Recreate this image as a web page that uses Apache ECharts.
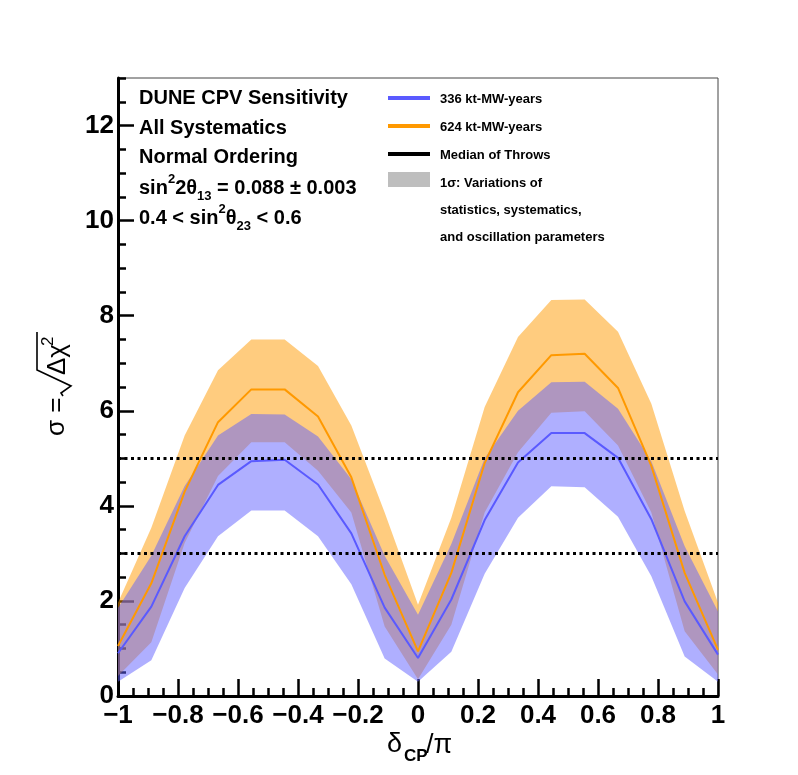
<!DOCTYPE html>
<html><head><meta charset="utf-8">
<script src="https://cdn.jsdelivr.net/npm/echarts@6/dist/echarts.min.js"></script>
<style>html,body{margin:0;padding:0;background:#fff}#c{width:798px;height:775px}</style>
</head><body><div id="c"></div>
<script>
// delta_CP / pi sample points
const deltaCP = [-1, -0.889, -0.778, -0.667, -0.556, -0.444, -0.333, -0.222, -0.111, 0,
                 0.111, 0.222, 0.333, 0.444, 0.556, 0.667, 0.778, 0.889, 1];
// 336 kt-MW-years
const blueMedian = [0.90, 1.88, 3.36, 4.44, 4.94, 4.97, 4.45, 3.42, 1.86, 0.80,
                    2.03, 3.70, 4.91, 5.53, 5.53, 5.01, 3.72, 1.99, 0.87];
const blueLower  = [0.30, 0.75, 2.27, 3.36, 3.90, 3.90, 3.36, 2.35, 0.79, 0.30,
                    0.93, 2.57, 3.75, 4.41, 4.39, 3.77, 2.52, 0.83, 0.30];
const blueUpper  = [1.85, 2.95, 4.42, 5.48, 5.93, 5.92, 5.46, 4.56, 2.95, 1.71,
                    3.20, 5.00, 6.00, 6.60, 6.61, 6.04, 4.94, 3.15, 1.78];
// 624 kt-MW-years
const orangeMedian = [1.05, 2.37, 4.30, 5.76, 6.45, 6.45, 5.88, 4.60, 2.55, 0.94,
                      2.59, 4.90, 6.39, 7.17, 7.20, 6.48, 4.84, 2.59, 0.97];
const orangeLower  = [0.42, 1.13, 3.22, 4.63, 5.34, 5.34, 4.74, 3.86, 1.46, 0.35,
                      1.50, 3.86, 5.13, 5.96, 5.99, 5.27, 3.86, 1.36, 0.45];
const orangeUpper  = [1.96, 3.54, 5.48, 6.85, 7.50, 7.50, 6.94, 5.69, 3.86, 1.92,
                      3.75, 6.08, 7.55, 8.33, 8.34, 7.66, 6.15, 3.89, 1.96];
// reference significance levels
const sigmaLines = [3, 5];
// axis ticks
const xTickLabels = [-1, -0.8, -0.6, -0.4, -0.2, 0, 0.2, 0.4, 0.6, 0.8, 1];
const yTickLabels = [0, 2, 4, 6, 8, 10, 12];

const FONT = '"Liberation Sans", Arial, Helvetica, sans-serif';
const BLUE = '#5a5aff', ORANGE = '#ff9900';
const diffs = (hi, lo) => hi.map((h, i) => +(h - lo[i]).toFixed(3));
const fmtX = (v) => { const r = Math.round(v * 10) / 10; return r < 0 ? '\u2212' + String(-r) : String(r); };

const chart = echarts.init(document.getElementById('c'), null, {renderer: 'canvas'});
const tickStyle = {color: '#000', width: 2.5};
const common = {symbol: 'none', silent: true, xAxisIndex: 1, yAxisIndex: 0};
chart.setOption({
  animation: false,
  backgroundColor: '#fff',
  grid: {left: 118, right: 80, top: 78, bottom: 79, show: true, borderColor: '#444', borderWidth: 1, backgroundColor: 'transparent'},
  xAxis: [{
    type: 'value', min: -1, max: 1, interval: 0.2,
    axisLine: {show: true, onZero: false, lineStyle: {color: '#000', width: 3}},
    axisTick: {show: true, inside: true, length: 17, lineStyle: tickStyle, customValues: xTickLabels},
    minorTick: {show: true, splitNumber: 4, length: 8, lineStyle: tickStyle},
    splitLine: {show: false}, minorSplitLine: {show: false},
    axisLabel: {color: '#000', fontFamily: FONT, fontWeight: 'bold', fontSize: 26, margin: 7, formatter: fmtX,
                customValues: xTickLabels}
  }, {
    type: 'category', data: deltaCP.map(String), boundaryGap: false, show: false,
    axisLine: {onZero: false}
  }],
  yAxis: [{
    type: 'value', min: 0, max: 13, interval: 0.5,
    axisLine: {show: true, onZero: false, lineStyle: {color: '#000', width: 3}},
    axisTick: {show: true, inside: true, length: 8, lineStyle: tickStyle},
    axisLabel: {show: false}, splitLine: {show: false}
  }, {
    type: 'value', min: 0, max: 13, interval: 2, position: 'left', offset: 0,
    axisLine: {show: false, onZero: false},
    axisTick: {show: true, inside: true, length: 16, lineStyle: tickStyle, customValues: yTickLabels},
    axisLabel: {color: '#000', fontFamily: FONT, fontWeight: 'bold', fontSize: 26, margin: 4,
                customValues: yTickLabels},
    splitLine: {show: false}
  }],
  series: [
    Object.assign({name: 'orangeLow', type: 'line', data: orangeLower, stack: 'orange',
     lineStyle: {opacity: 0}}, common),
    Object.assign({name: '624 band', type: 'line', data: diffs(orangeUpper, orangeLower), stack: 'orange',
     lineStyle: {opacity: 0}, areaStyle: {color: ORANGE, opacity: 0.5}}, common),
    Object.assign({name: '624 kt-MW-years', type: 'line', data: orangeMedian,
     lineStyle: {color: ORANGE, width: 2}}, common),
    Object.assign({name: 'blueLow', type: 'line', data: blueLower, stack: 'blue',
     lineStyle: {opacity: 0}}, common),
    Object.assign({name: '336 band', type: 'line', data: diffs(blueUpper, blueLower), stack: 'blue',
     lineStyle: {opacity: 0}, areaStyle: {color: '#6060ff', opacity: 0.5}}, common),
    Object.assign({name: '336 kt-MW-years', type: 'line', data: blueMedian,
     lineStyle: {color: BLUE, width: 2},
     markLine: {silent: true, symbol: ['none', 'none'], label: {show: false},
                lineStyle: {color: '#000', width: 3, type: [3, 3.5]},
                data: sigmaLines.map(v => ({yAxis: v}))}}, common)
  ],
  graphic: [
    // top-left annotations
    {type: 'text', left: 139, top: 88, style: {text: 'DUNE CPV Sensitivity', font: 'bold 20px ' + FONT, fill: '#000'}},
    {type: 'text', left: 139, top: 118, style: {text: 'All Systematics', font: 'bold 20px ' + FONT, fill: '#000'}},
    {type: 'text', left: 139, top: 147, style: {text: 'Normal Ordering', font: 'bold 20px ' + FONT, fill: '#000'}},
    {type: 'text', x: 139, y: 188, style: {
      text: '{n|sin}{p|2}{n|2θ}{b|13}{n| = 0.088 ± 0.003}', verticalAlign: 'middle', textVerticalAlign: 'middle',
      rich: {n: {font: 'bold 20px ' + FONT, fill: '#000', lineHeight: 30},
             p: {font: 'bold 13px ' + FONT, fill: '#000', lineHeight: 16, verticalAlign: 'top'},
             b: {font: 'bold 13px ' + FONT, fill: '#000', lineHeight: 14, verticalAlign: 'bottom'}}}},
    {type: 'text', x: 139, y: 218, style: {
      text: '{n|0.4 < sin}{p|2}{n|θ}{b|23}{n| < 0.6}', verticalAlign: 'middle', textVerticalAlign: 'middle',
      rich: {n: {font: 'bold 20px ' + FONT, fill: '#000', lineHeight: 30},
             p: {font: 'bold 13px ' + FONT, fill: '#000', lineHeight: 16, verticalAlign: 'top'},
             b: {font: 'bold 13px ' + FONT, fill: '#000', lineHeight: 14, verticalAlign: 'bottom'}}}},
    // legend
    {type: 'line', shape: {x1: 388, y1: 98, x2: 430, y2: 98}, style: {stroke: BLUE, lineWidth: 4}},
    {type: 'line', shape: {x1: 388, y1: 126, x2: 430, y2: 126}, style: {stroke: ORANGE, lineWidth: 4}},
    {type: 'line', shape: {x1: 388, y1: 154, x2: 430, y2: 154}, style: {stroke: '#000', lineWidth: 4}},
    {type: 'rect', shape: {x: 388, y: 172, width: 42, height: 15}, style: {fill: '#bebebe'}},
    {type: 'text', x: 440, y: 99, style: {text: '336 kt-MW-years', font: 'bold 13px ' + FONT, fill: '#000', verticalAlign: 'middle'}},
    {type: 'text', x: 440, y: 127, style: {text: '624 kt-MW-years', font: 'bold 13px ' + FONT, fill: '#000', verticalAlign: 'middle'}},
    {type: 'text', x: 440, y: 155, style: {text: 'Median of Throws', font: 'bold 13px ' + FONT, fill: '#000', verticalAlign: 'middle'}},
    {type: 'text', x: 440, y: 183, style: {text: '1σ: Variations of', font: 'bold 13px ' + FONT, fill: '#000', verticalAlign: 'middle'}},
    {type: 'text', x: 440, y: 210, style: {text: 'statistics, systematics,', font: 'bold 13px ' + FONT, fill: '#000', verticalAlign: 'middle'}},
    {type: 'text', x: 440, y: 237, style: {text: 'and oscillation parameters', font: 'bold 13px ' + FONT, fill: '#000', verticalAlign: 'middle'}},
    // x-axis title
    {type: 'text', x: 387, y: 745, style: {text: 'δ', font: '27px ' + FONT, fill: '#000', verticalAlign: 'middle'}},
    {type: 'text', x: 404, y: 756, style: {text: 'CP', font: 'bold 17px ' + FONT, fill: '#000', verticalAlign: 'middle'}},
    {type: 'text', x: 426, y: 746, style: {text: '/π', font: '27px ' + FONT, fill: '#000', verticalAlign: 'middle'}},
    // y-axis title (rotated)
    {type: 'group', x: 70, y: 385, rotation: Math.PI / 2, children: [
      {type: 'text', x: -51, y: 0, style: {text: 'σ =', font: '26px ' + FONT, fill: '#000', verticalAlign: 'bottom'}},
      {type: 'polyline', shape: {points: [[-11, -7], [-8, -9], [-1, 1], [15, -33], [53, -33]]},
       style: {stroke: '#000', lineWidth: 1.6, fill: null}},
      {type: 'text', x: 10, y: 1, style: {text: 'Δχ', font: '26px ' + FONT, fill: '#000', verticalAlign: 'bottom'}},
      {type: 'text', x: 39, y: -13, style: {text: '2', font: '17px ' + FONT, fill: '#000', verticalAlign: 'bottom'}}
    ]}
  ]
});
</script></body></html>
